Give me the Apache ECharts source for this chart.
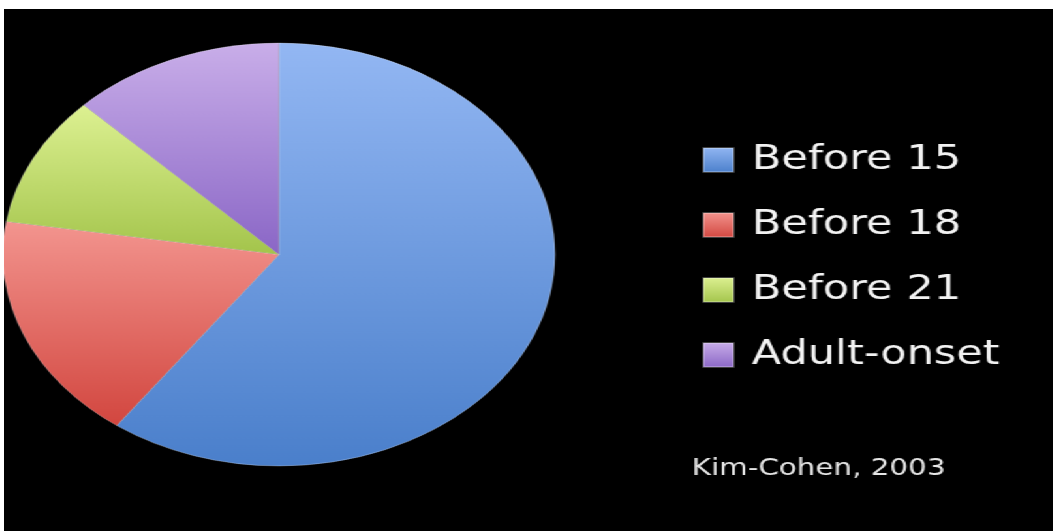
<!DOCTYPE html>
<html>
<head>
<meta charset="utf-8">
<script src="https://cdn.jsdelivr.net/npm/echarts@6/dist/echarts.min.js"></script>
<style>
  html, body { margin: 0; padding: 0; background: #ffffff; }
  #frame { position: relative; width: 1053px; height: 531px; overflow: hidden; background: #ffffff; }
  /* Slide area: drawn narrow, then stretched horizontally like the widescreen slide */
  #slide { position: absolute; left: 4px; top: 9px; width: 804px; height: 522px;
           background: #000000; transform: scaleX(1.305); transform-origin: 0 0; }
</style>
</head>
<body>
<div id="frame"><div id="slide"></div></div>
<script>
// Age of onset of adult disorders (share of cases, %)
const categories = ['Before 15', 'Before 18', 'Before 21', 'Adult-onset'];
const shares = [60, 17.5, 10, 12.5];
const sourceNote = 'Kim-Cohen, 2003';

// Top / bottom shades of each slice gradient
const topColors = ['#93b7f3', '#f3958f', '#ddf192', '#c9aee9'];
const bottomColors = ['#4a7fcb', '#d2463f', '#a3c44b', '#8a66c6'];

const chart = echarts.init(document.getElementById('slide'), null, { renderer: 'canvas' });

const pieData = categories.map((name, i) => ({
  name: name,
  value: shares[i],
  itemStyle: {
    color: new echarts.graphic.LinearGradient(0, 0, 0, 1, [
      { offset: 0, color: topColors[i] },
      { offset: 1, color: bottomColors[i] }
    ])
  }
}));

chart.setOption({
  backgroundColor: '#000000',
  animation: false,
  legend: {
    orient: 'vertical',
    left: 535,
    top: 131,
    padding: 0,
    itemGap: 25,
    itemWidth: 23,
    itemHeight: 24,
    icon: 'rect',
    data: categories,
    textStyle: {
      color: '#f2f2f2',
      fontFamily: 'DejaVu Sans',
      fontSize: 33,
      lineHeight: 40,
      padding: [0, 0, 0, 9]
    }
  },
  graphic: [{
    type: 'text',
    left: 527,
    top: 449,
    style: {
      text: sourceNote,
      fill: '#e6e6e6',
      font: '22.5px "DejaVu Sans"'
    }
  }],
  series: [{
    type: 'pie',
    center: [210.7, 245.5],
    radius: [0, 211.5],
    startAngle: 90,
    clockwise: true,
    label: { show: false },
    labelLine: { show: false },
    itemStyle: { borderColor: 'rgba(255,255,255,0.25)', borderWidth: 1 },
    emphasis: { scale: false },
    data: pieData
  }]
});
</script>
</body>
</html>
